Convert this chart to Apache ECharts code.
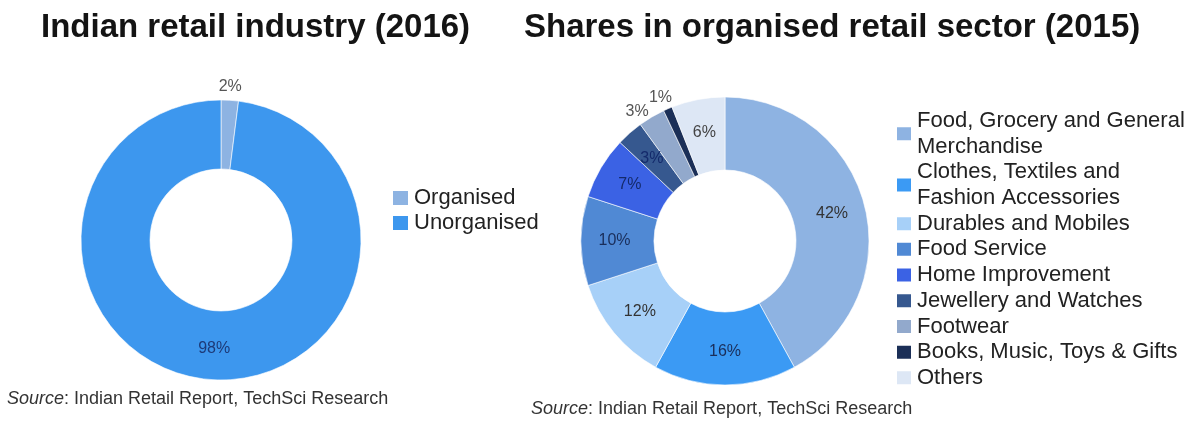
<!DOCTYPE html>
<html>
<head>
<meta charset="utf-8">
<script src="https://cdn.jsdelivr.net/npm/echarts@6/dist/echarts.min.js"></script>
<style>
  html, body { margin: 0; padding: 0; background: #ffffff; }
  #chart { width: 1201px; height: 424px; }
</style>
</head>
<body>
<div id="chart"></div>
<script>
// Indian retail industry split (2016)
const retailTypes = ['Organised', 'Unorganised'];
const retailShares = [2, 98];

// Shares in organised retail sector (2015)
const sectors = [
  'Food, Grocery and General Merchandise',
  'Clothes, Textiles and Fashion Accessories',
  'Durables and Mobiles',
  'Food Service',
  'Home Improvement',
  'Jewellery and Watches',
  'Footwear',
  'Books, Music, Toys & Gifts',
  'Others'
];
const sectorShares = [42, 16, 12, 10, 7, 3, 3, 1, 6];

const sourceText = '{i|Source}: Indian Retail Report, TechSci Research';

// styling
const FONT = "'Liberation Sans', Arial, Helvetica, sans-serif";
const retailColors = ['#8db3e2', '#3d97ee'];
const retailLabelColors = ['#555555', '#1d3a78'];
const sectorColors = ['#8eb3e2', '#3b9af4', '#a7d0f8', '#5089d4', '#3b62e4', '#36588f', '#92a9cc', '#1b2f57', '#dde7f5'];
const sectorLabelColors = ['#333333', '#1a2e5a', '#333333', '#1a2e5a', '#142a6b', '#142a6b', '#555555', '#555555', '#444444'];

const retailData = retailTypes.map((name, i) => ({
  name,
  value: retailShares[i],
  itemStyle: { color: retailColors[i] },
  label: { color: retailLabelColors[i] }
}));
// the thin organised slice carries its label just outside the ring
retailData[0].label = { position: 'outside', color: retailLabelColors[0], distanceToLabelLine: -12 };
retailData[0].labelLine = { show: false, length: 14, length2: 0 };

const sectorData = sectors.map((name, i) => ({
  name,
  value: sectorShares[i],
  itemStyle: { color: sectorColors[i] },
  label: { color: sectorLabelColors[i] }
}));
// footwear and books slices are too narrow for an inside label
sectorData[6].label = { position: 'outside', color: sectorLabelColors[6], distanceToLabelLine: 0 };
sectorData[6].labelLine = { show: false, length: 6, length2: 0 };
sectorData[7].label = { position: 'outside', color: sectorLabelColors[7], distanceToLabelLine: -9 };
sectorData[7].labelLine = { show: false, length: 12, length2: 0 };

const pieBase = {
  type: 'pie',
  startAngle: 90,
  clockwise: true,
  avoidLabelOverlap: false,
  silent: true,
  emphasis: { disabled: true },
  itemStyle: { borderColor: '#ffffff', borderWidth: 0.6 },
  label: { position: 'inside', formatter: '{c}%', fontSize: 16, fontFamily: FONT },
  labelLine: { show: false }
};

const legendText = { fontSize: 22, color: '#222222', fontFamily: FONT };

const chart = echarts.init(document.getElementById('chart'), null, { renderer: 'canvas' });
chart.setOption({
  backgroundColor: '#ffffff',
  animation: false,
  title: [
    {
      text: 'Indian retail industry (2016)', left: 41, top: 11, padding: 0,
      textStyle: { fontSize: 33, fontWeight: 'bold', color: '#141414', fontFamily: FONT }
    },
    {
      text: 'Shares in organised retail sector (2015)', left: 524, top: 11, padding: 0,
      textStyle: { fontSize: 33, fontWeight: 'bold', color: '#141414', fontFamily: FONT }
    },
    {
      text: sourceText, left: 7, top: 390, padding: 0,
      textStyle: {
        fontSize: 18, fontWeight: 'normal', color: '#333333', fontFamily: FONT,
        rich: { i: { fontStyle: 'italic', fontSize: 18, color: '#333333', fontFamily: FONT } }
      }
    },
    {
      text: sourceText, left: 531, top: 400, padding: 0,
      textStyle: {
        fontSize: 18, fontWeight: 'normal', color: '#333333', fontFamily: FONT,
        rich: { i: { fontStyle: 'italic', fontSize: 18, color: '#333333', fontFamily: FONT } }
      }
    }
  ],
  legend: [
    {
      data: retailTypes, orient: 'vertical', left: 391, top: 185.5, padding: 0,
      itemGap: 0, itemWidth: 17, itemHeight: 16, icon: 'rect', selectedMode: false,
      textStyle: Object.assign({ lineHeight: 25 }, legendText)
    },
    {
      data: sectors, orient: 'vertical', left: 895, top: 108, padding: 0,
      itemGap: 0, itemWidth: 16, itemHeight: 15, icon: 'rect', selectedMode: false,
      textStyle: Object.assign({ lineHeight: 25.7, width: 280, overflow: 'break' }, legendText)
    }
  ],
  series: [
    Object.assign({}, pieBase, {
      name: 'Indian retail industry (2016)',
      center: [221, 240],
      radius: [71, 140],
      data: retailData
    }),
    Object.assign({}, pieBase, {
      name: 'Shares in organised retail sector (2015)',
      center: [725, 241],
      radius: [71, 144],
      data: sectorData
    })
  ]
});
</script>
</body>
</html>
